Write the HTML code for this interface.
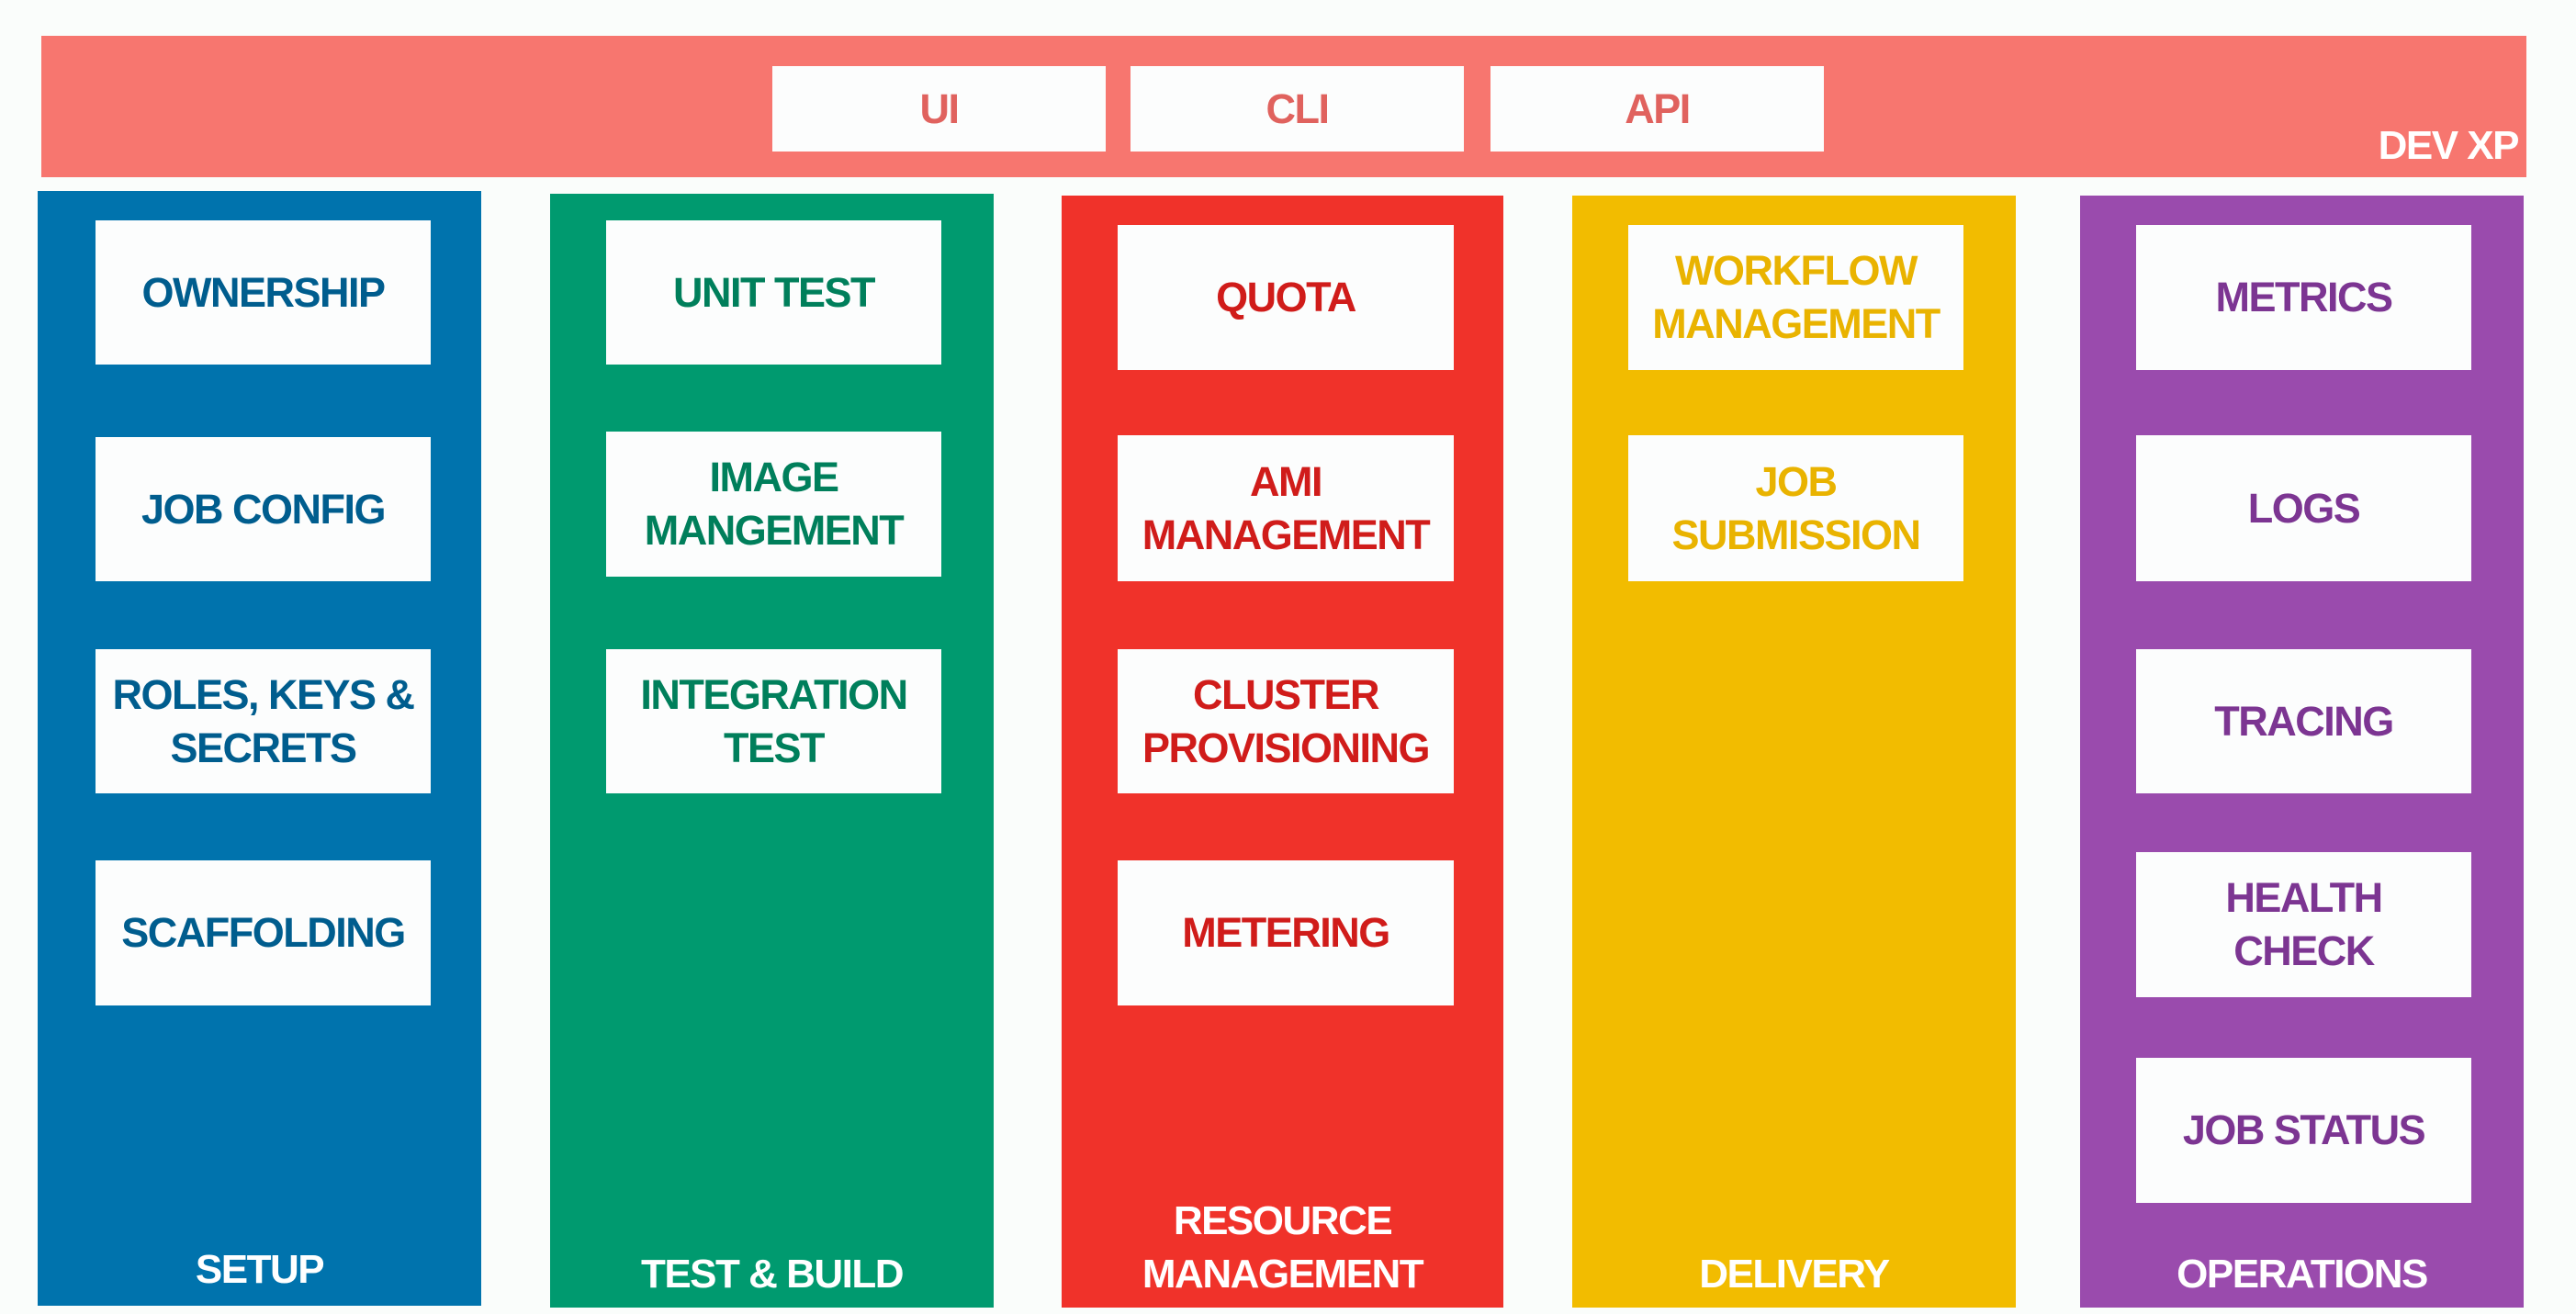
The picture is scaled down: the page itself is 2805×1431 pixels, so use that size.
<!DOCTYPE html>
<html><head><meta charset="utf-8"><style>
body{margin:0;width:2805px;height:1431px;background:#fafdfb;position:relative;overflow:hidden;font-family:"Liberation Sans",Arial,sans-serif;font-weight:bold;}
div{position:absolute;box-sizing:border-box;}
.b{background:#fcfdfd;display:flex;align-items:center;justify-content:center;text-align:center;font-size:45px;line-height:58px;letter-spacing:-1.5px;}
.l{color:#fff;font-size:44px;line-height:58px;letter-spacing:-1.5px;text-align:center;}
</style></head><body>
<div style="left:45px;top:39px;width:2706px;height:154px;background:#f7766f"></div>
<div class="b" style="left:841px;top:72px;width:363px;height:93px;color:#e0625e">UI</div>
<div class="b" style="left:1231px;top:72px;width:363px;height:93px;color:#e0625e">CLI</div>
<div class="b" style="left:1623px;top:72px;width:363px;height:93px;color:#e0625e">API</div>
<div class="l" style="left:2540px;top:130px;width:202px;text-align:right;">DEV XP</div>

<div style="left:41px;top:208px;width:483px;height:1214px;background:#0073ad"></div>
<div style="left:599px;top:211px;width:483px;height:1213px;background:#009a6f"></div>
<div style="left:1156px;top:213px;width:481px;height:1211px;background:#f0322a"></div>
<div style="left:1712px;top:213px;width:483px;height:1211px;background:#f2bc00"></div>
<div style="left:2265px;top:213px;width:483px;height:1211px;background:#9a4bad"></div>

<div class="b" style="left:104px;top:240px;width:365px;height:157px;color:#005d8e">OWNERSHIP</div>
<div class="b" style="left:104px;top:476px;width:365px;height:157px;color:#005d8e">JOB CONFIG</div>
<div class="b" style="left:104px;top:707px;width:365px;height:157px;color:#005d8e">ROLES, KEYS &amp;<br>SECRETS</div>
<div class="b" style="left:104px;top:937px;width:365px;height:158px;color:#005d8e">SCAFFOLDING</div>
<div class="l" style="left:41px;top:1354px;width:483px;">SETUP</div>

<div class="b" style="left:660px;top:240px;width:365px;height:157px;color:#007f5b">UNIT TEST</div>
<div class="b" style="left:660px;top:470px;width:365px;height:158px;color:#007f5b">IMAGE<br>MANGEMENT</div>
<div class="b" style="left:660px;top:707px;width:365px;height:157px;color:#007f5b">INTEGRATION<br>TEST</div>
<div class="l" style="left:599px;top:1359px;width:483px;">TEST &amp; BUILD</div>

<div class="b" style="left:1217px;top:245px;width:366px;height:158px;color:#d01c1a">QUOTA</div>
<div class="b" style="left:1217px;top:474px;width:366px;height:159px;color:#d01c1a">AMI<br>MANAGEMENT</div>
<div class="b" style="left:1217px;top:707px;width:366px;height:157px;color:#d01c1a">CLUSTER<br>PROVISIONING</div>
<div class="b" style="left:1217px;top:937px;width:366px;height:158px;color:#d01c1a">METERING</div>
<div class="l" style="left:1156px;top:1301px;width:481px;">RESOURCE<br>MANAGEMENT</div>

<div class="b" style="left:1773px;top:245px;width:365px;height:158px;color:#e9b300">WORKFLOW<br>MANAGEMENT</div>
<div class="b" style="left:1773px;top:474px;width:365px;height:159px;color:#e9b300">JOB<br>SUBMISSION</div>
<div class="l" style="left:1712px;top:1359px;width:483px;">DELIVERY</div>

<div class="b" style="left:2326px;top:245px;width:365px;height:158px;color:#7c3592">METRICS</div>
<div class="b" style="left:2326px;top:474px;width:365px;height:159px;color:#7c3592">LOGS</div>
<div class="b" style="left:2326px;top:707px;width:365px;height:157px;color:#7c3592">TRACING</div>
<div class="b" style="left:2326px;top:928px;width:365px;height:158px;color:#7c3592">HEALTH<br>CHECK</div>
<div class="b" style="left:2326px;top:1152px;width:365px;height:158px;color:#7c3592">JOB STATUS</div>
<div class="l" style="left:2265px;top:1359px;width:483px;">OPERATIONS</div>
</body></html>
